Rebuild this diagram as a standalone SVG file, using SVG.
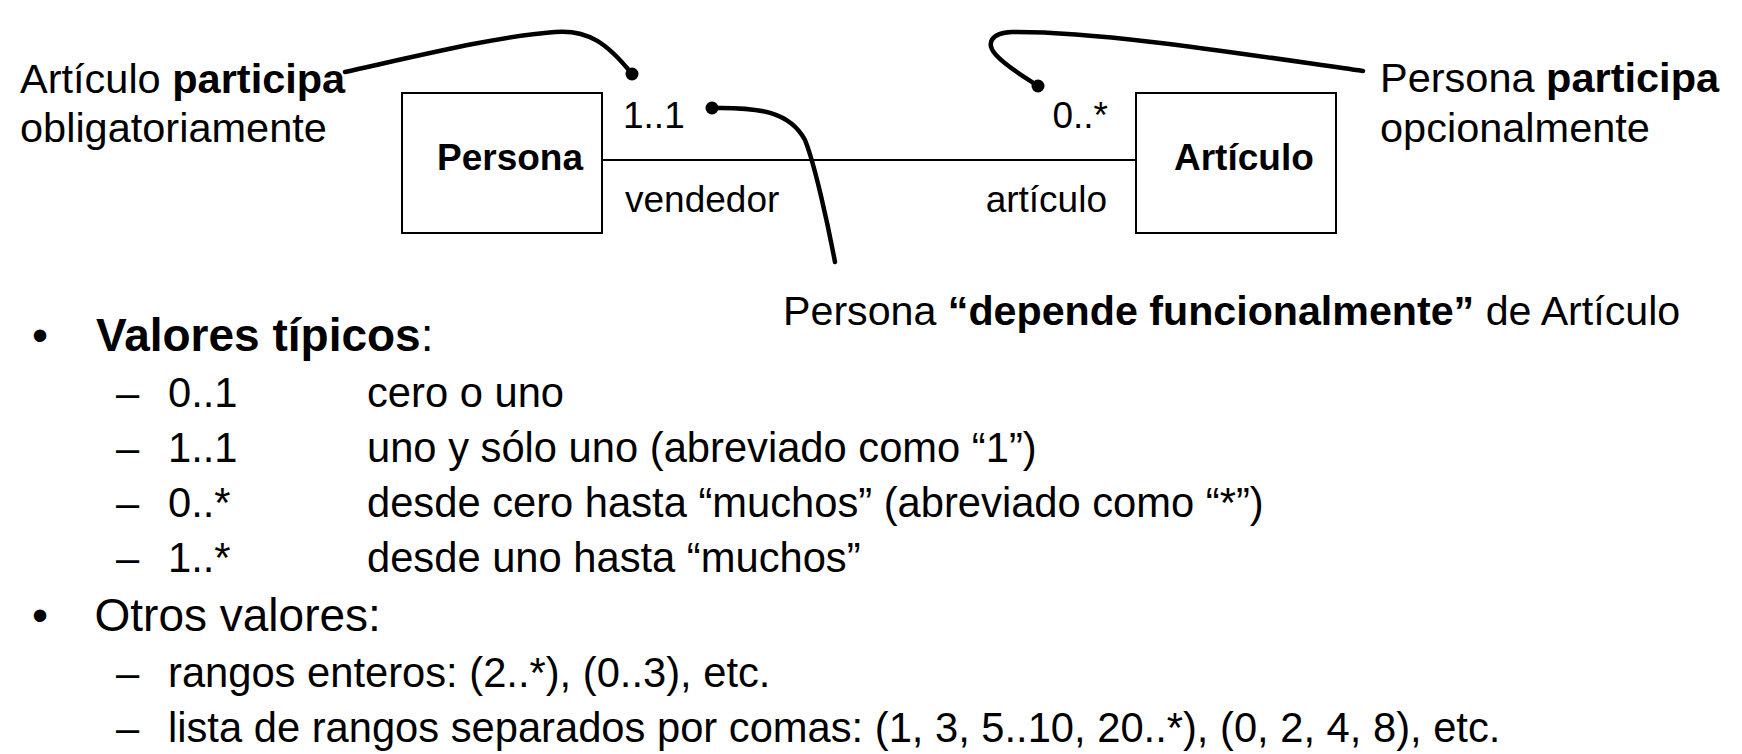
<svg xmlns="http://www.w3.org/2000/svg" width="1742" height="754" viewBox="0 0 1742 754">
<style>
text{font-family:"Liberation Sans",Arial,sans-serif;fill:#000}
.b{font-weight:bold}
.cls{fill:#fff;stroke:#000;stroke-width:2}
.lbl{font-size:37px}
.ann{font-size:41.5px}
.l1{font-size:46px}
.l2{font-size:41.7px}
.assoc{fill:none;stroke:#000;stroke-width:2}
.note{fill:none;stroke:#000;stroke-width:4.5;stroke-linecap:round}
.dot{fill:#000}
</style>
<rect width="1742" height="754" fill="#fff"/>
<g id="connectors">
<line class="assoc" x1="602" y1="160" x2="1136" y2="160"/>
<path class="note" d="M345,72 C430,53 500,36 555,32 C588,29 608,44 632,74"/>
<circle class="dot" cx="632" cy="74" r="6.5"/>
<path class="note" d="M712,108 C760,107 790,112 805,140 C815,165 828,225 835,262"/>
<circle class="dot" cx="712" cy="108" r="6.5"/>
<path class="note" d="M1363,71 C1250,55 1100,31 1012,32 C990,33 986,44 996,55 C1008,68 1025,77 1038,86"/>
<circle class="dot" cx="1038" cy="86" r="6.5"/>
</g>
<g id="persona">
<rect class="cls" x="402" y="93" width="200" height="140"/>
<text class="lbl b" x="437" y="170">Persona</text>
</g>
<g id="articulo">
<rect class="cls" x="1136" y="93" width="200" height="140"/>
<text class="lbl b" x="1174" y="170">Artículo</text>
</g>
<g id="assoc-labels">
<text class="lbl" x="623" y="128">1..1</text>
<text class="lbl" x="625" y="212">vendedor</text>
<text class="lbl" x="1108" y="128" text-anchor="end">0..*</text>
<text class="lbl" x="1107" y="212" text-anchor="end">artículo</text>
</g>
<g id="note-left">
<text class="ann" x="20" y="93">Artículo <tspan class="b">participa</tspan></text>
<text class="ann" x="20" y="142">obligatoriamente</text>
</g>
<g id="note-right">
<text class="ann" x="1380" y="92">Persona <tspan class="b">participa</tspan></text>
<text class="ann" x="1380" y="142">opcionalmente</text>
</g>
<g id="note-bottom">
<text class="ann" x="783" y="325" style="font-size:41.2px">Persona <tspan class="b">“depende funcionalmente”</tspan> de Artículo</text>
</g>
<g id="list">
<text class="l1" x="32" y="351">•</text>
<text class="l1" x="96" y="351"><tspan class="b">Valores típicos</tspan>:</text>
<text class="l2" x="116" y="407">–</text><text class="l2" x="168" y="407">0..1</text><text class="l2" x="367" y="407">cero o uno</text>
<text class="l2" x="116" y="462">–</text><text class="l2" x="168" y="462">1..1</text><text class="l2" x="367" y="462">uno y sólo uno (abreviado como “1”)</text>
<text class="l2" x="116" y="517">–</text><text class="l2" x="168" y="517">0..*</text><text class="l2" x="367" y="517">desde cero hasta “muchos” (abreviado como “*”)</text>
<text class="l2" x="116" y="572">–</text><text class="l2" x="168" y="572">1..*</text><text class="l2" x="367" y="572">desde uno hasta “muchos”</text>
<text class="l1" x="32" y="631">•</text>
<text class="l1" x="94.5" y="631">Otros valores:</text>
<text class="l2" x="116" y="687">–</text><text class="l2" x="168" y="687">rangos enteros: (2..*), (0..3), etc.</text>
<text class="l2" x="116" y="742">–</text><text class="l2" x="168" y="742">lista de rangos separados por comas: (1, 3, 5..10, 20..*), (0, 2, 4, 8), etc.</text>
</g>
</svg>
